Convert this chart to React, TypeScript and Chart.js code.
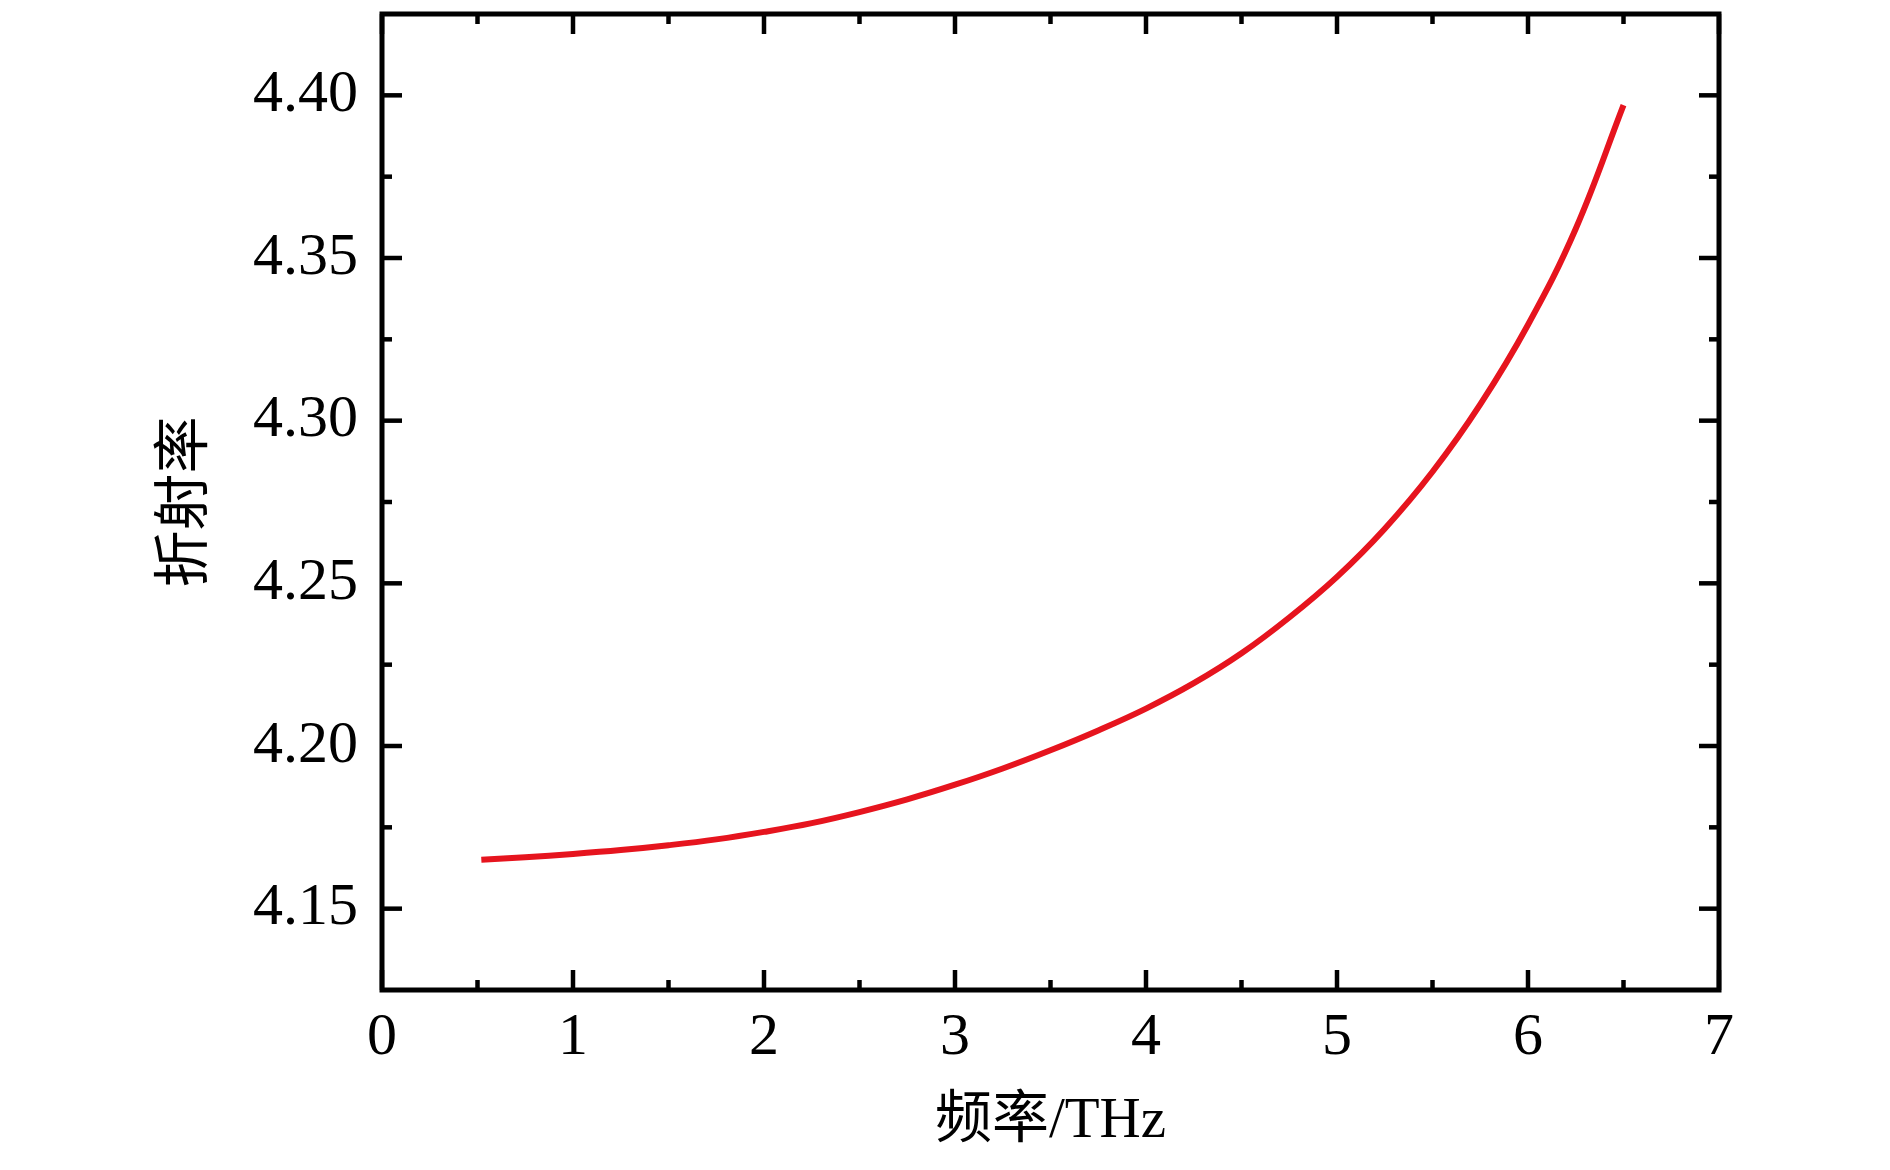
import React, { useEffect, useRef } from "react";
import { Chart, registerables } from "chart.js";

Chart.register(...registerables);

// Frequency (THz)
const frequency = [0.52, 0.75, 1.0, 1.25, 1.5, 1.75, 2.0, 2.25, 2.5, 2.75, 3.0, 3.25, 3.5, 3.75, 4.0, 4.25, 4.5, 4.75, 5.0, 5.25, 5.5, 5.75, 6.0, 6.25, 6.5];
// Refractive index
const refractiveIndex = [4.165, 4.1658, 4.1668, 4.168, 4.1695, 4.1713, 4.1736, 4.1763, 4.1797, 4.1836, 4.1881, 4.1931, 4.1987, 4.2048, 4.2115, 4.2193, 4.2285, 4.2395, 4.252, 4.2668, 4.2843, 4.305, 4.3295, 4.359, 4.397];

const xTicks = [0, 1, 2, 3, 4, 5, 6, 7];
const xMinorTicks = [0.5, 1.5, 2.5, 3.5, 4.5, 5.5, 6.5];
const yTicks = [4.15, 4.2, 4.25, 4.3, 4.35, 4.4];
const yMinorTicks = [4.175, 4.225, 4.275, 4.325, 4.375];

const xTitle = "频率/THz";
const yTitle = "折射率";

const W = 1890;
const H = 1170;

const frameTicks = {
  id: "frameTicks",
  afterDatasetsDraw(chart: any) {
    const { ctx, chartArea, scales } = chart;
    const { left, right, top, bottom } = chartArea;
    const x = scales.x;
    const y = scales.y;
    const line = (x1: number, y1: number, x2: number, y2: number) => {
      ctx.beginPath();
      ctx.moveTo(x1, y1);
      ctx.lineTo(x2, y2);
      ctx.stroke();
    };
    ctx.save();
    ctx.strokeStyle = "#000";
    ctx.lineWidth = 4.5;
    ctx.lineCap = "butt";
    const major = 20;
    const minor = 10;
    const xt = (v: number, len: number) => {
      const p = x.getPixelForValue(v);
      line(p, bottom, p, bottom - len);
      line(p, top, p, top + len);
    };
    const yt = (v: number, len: number) => {
      const p = y.getPixelForValue(v);
      line(left, p, left + len, p);
      line(right, p, right - len, p);
    };
    xTicks.forEach((v) => xt(v, major));
    xMinorTicks.forEach((v) => xt(v, minor));
    yTicks.forEach((v) => yt(v, major));
    yMinorTicks.forEach((v) => yt(v, minor));
    ctx.lineWidth = 5;
    ctx.lineJoin = "miter";
    ctx.strokeRect(left, top, right - left, bottom - top);
    ctx.restore();
  },
};

export default function App() {
  const ref = useRef<HTMLCanvasElement | null>(null);

  useEffect(() => {
    if (!ref.current) return;
    const tickFont = { family: "'Liberation Serif', 'DejaVu Serif', serif", size: 60 };
    const titleFont = { family: "'Liberation Serif', 'Noto Sans CJK SC', serif", size: 57 };
    const chart = new Chart(ref.current, {
      type: "line",
      data: {
        datasets: [
          {
            data: frequency.map((f, i) => ({ x: f, y: refractiveIndex[i] })),
            borderColor: "#e6141e",
            borderWidth: 6,
            pointRadius: 0,
            fill: false,
            tension: 0.4,
          },
        ],
      },
      options: {
        responsive: false,
        animation: false,
        devicePixelRatio: 1,
        layout: { padding: { top: 14, right: 171, left: 0, bottom: 0 } },
        plugins: { legend: { display: false }, tooltip: { enabled: false } },
        scales: {
          x: {
            type: "linear",
            min: 0,
            max: 7,
            grid: { display: false, drawTicks: false },
            border: { display: false },
            afterBuildTicks: (s: any) => {
              s.ticks = xTicks.map((v) => ({ value: v }));
            },
            afterFit: (s: any) => {
              s.height = 180;
              s.paddingLeft = 0;
              s.paddingRight = 0;
            },
            ticks: {
              autoSkip: false,
              maxRotation: 0,
              padding: 12,
              color: "#000",
              font: tickFont,
              callback: (v: any) => String(v),
            },
            title: {
              display: true,
              text: xTitle,
              color: "#000",
              font: titleFont,
              padding: { top: 0, bottom: 14 },
            },
          },
          y: {
            type: "linear",
            min: 4.125,
            max: 4.425,
            grid: { display: false, drawTicks: false },
            border: { display: false },
            afterBuildTicks: (s: any) => {
              s.ticks = yTicks.map((v) => ({ value: v }));
            },
            afterFit: (s: any) => {
              s.width = 382;
              s.paddingTop = 0;
              s.paddingBottom = 0;
            },
            ticks: {
              autoSkip: false,
              padding: 24,
              color: "#000",
              font: tickFont,
              callback: (v: any) => Number(v).toFixed(2),
            },
            title: {
              display: true,
              text: yTitle,
              color: "#000",
              font: titleFont,
              padding: { top: 153, bottom: 0 },
            },
          },
        },
      },
      plugins: [frameTicks],
    } as any);
    return () => chart.destroy();
  }, []);

  return (
    <div style={{ position: "absolute", left: 0, top: 0, width: W, height: H, background: "#fff" }}>
      <canvas ref={ref} width={W} height={H} style={{ width: W, height: H, display: "block" }} />
    </div>
  );
}
